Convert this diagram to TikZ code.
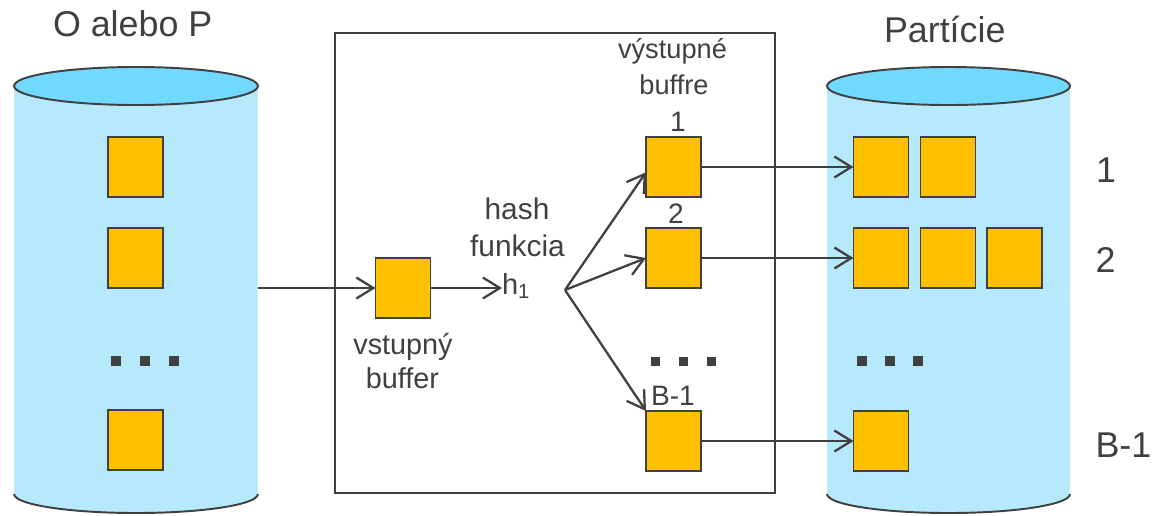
\documentclass[tikz,border=0pt]{standalone}
\usepackage{fontspec}
\setmainfont{Liberation Sans}
\usetikzlibrary{arrows.meta}
\definecolor{txt}{HTML}{404040}
\definecolor{cylbody}{HTML}{B7E9FD}
\definecolor{cyltop}{HTML}{72D9FE}
\definecolor{gold}{HTML}{FFC000}
\begin{document}
\begin{tikzpicture}[x=0.02cm,y=-0.02cm,
  sq/.style={draw=txt,line width=1.1pt,fill=gold,minimum width=1.1cm,minimum height=1.2cm,inner sep=0pt,outer sep=0pt},
  lbl/.style={text=txt,inner sep=0pt,outer sep=0pt,anchor=base},
  big/.style={lbl,font=\fontsize{20.4}{24}\selectfont},
  conn/.style={draw=txt,line width=1.3pt,-{Straight Barb[length=3.4mm,width=4.2mm,line width=1.3pt]}},
  dotsq/.style={fill=txt,minimum size=0.2cm,inner sep=0pt}]
\useasboundingbox (0,0) rectangle (1159,515);
% left cylinder
\fill[cylbody] (14,86) rectangle (258,494);
\fill[cylbody] (136,494) ellipse [x radius=122,y radius=19];
\draw[txt,line width=1.1pt] (14,494) arc[start angle=180,end angle=0,x radius=122,y radius=19];
\draw[txt,line width=1.1pt,fill=cyltop] (136,86) ellipse [x radius=122,y radius=19];
% right cylinder
\fill[cylbody] (827,86) rectangle (1070,494);
\fill[cylbody] (948.5,494) ellipse [x radius=121.5,y radius=19];
\draw[txt,line width=1.1pt] (827,494) arc[start angle=180,end angle=0,x radius=121.5,y radius=19];
\draw[txt,line width=1.1pt,fill=cyltop] (948.5,86) ellipse [x radius=121.5,y radius=19];
% middle box
\draw[txt,line width=1.1pt] (335,33) rectangle (775,493);
% titles
\node[big,anchor=base west] (tl) at (53,36.5) {O alebo P};
\node[big,anchor=base west] (tr) at (884,42.7) {Partície};
% left squares
\node[sq] (l1) at (135.5,167) {};
\node[sq] (l2) at (135.5,258) {};
\node[sq] (l3) at (135.5,440) {};
\node[dotsq] (ld1) at (116,361) {};
\node[dotsq] (ld2) at (145,361) {};
\node[dotsq] (ld3) at (174,361) {};
% right squares
\node[sq] (r11) at (881,167) {};
\node[sq] (r12) at (948,167) {};
\node[sq] (r21) at (881,258) {};
\node[sq] (r22) at (948,258) {};
\node[sq] (r23) at (1014.5,258) {};
\node[sq] (r31) at (881,441) {};
\node[dotsq] (rd1) at (862,361) {};
\node[dotsq] (rd2) at (890,361) {};
\node[dotsq] (rd3) at (918,361) {};
\node[big] (n1) at (1106,182.7) {1};
\node[big] (n2) at (1105.5,272.7) {2};
\node[big,anchor=base west] (n3) at (1095.5,457) {B-1};
% input buffer
\node[sq] (in) at (403,288) {};
\node[lbl,font=\fontsize{16.4}{20}\selectfont] (inl1) at (403,354) {vstupný};
\node[lbl,font=\fontsize{16.4}{20}\selectfont] (inl2) at (402.5,388) {buffer};
\node[lbl,font=\fontsize{17}{20}\selectfont] (hf1) at (517,219) {hash};
\node[lbl,font=\fontsize{17}{20}\selectfont] (hf2) at (517.5,256) {funkcia};
\node[lbl,font=\fontsize{16.5}{18}\selectfont,anchor=base west] (h) at (502,294) {h\textsubscript{1}};
\coordinate (br) at (565,290);
% output buffers
\node[sq] (o1) at (673.5,167) {};
\node[sq] (o2) at (673.5,258) {};
\node[sq] (o3) at (673.5,441) {};
\node[lbl,font=\fontsize{15.5}{18}\selectfont] (ol1a) at (672.5,58) {výstupné};
\node[lbl,font=\fontsize{15.5}{18}\selectfont] (ol1b) at (674,94) {buffre};
\node[lbl,font=\fontsize{16}{18}\selectfont] (oln1) at (678,131) {1};
\node[lbl,font=\fontsize{16}{18}\selectfont] (oln2) at (676,223) {2};
\node[lbl,font=\fontsize{16}{18}\selectfont,anchor=base west] (oln3) at (651,405) {B-1};
\node[dotsq,minimum size=0.18cm] (od1) at (655,361) {};
\node[dotsq,minimum size=0.18cm] (od2) at (683,361) {};
\node[dotsq,minimum size=0.18cm] (od3) at (711,361) {};
% connectors
\coordinate (lout) at (258,288);
\draw[conn] (lout) -- (in.west);
\draw[conn] (in.east) -- (in.east -| h.west);
\draw[conn] (br) -- ([yshift=-3]o1.west);
\draw[conn] (br) -- (o2.west);
\draw[conn] (br) -- (o3.north west);
\draw[conn] (o1.east) -- (r11.west);
\draw[conn] (o2.east) -- (r21.west);
\draw[conn] (o3.east) -- (r31.west);
\end{tikzpicture}
\end{document}
